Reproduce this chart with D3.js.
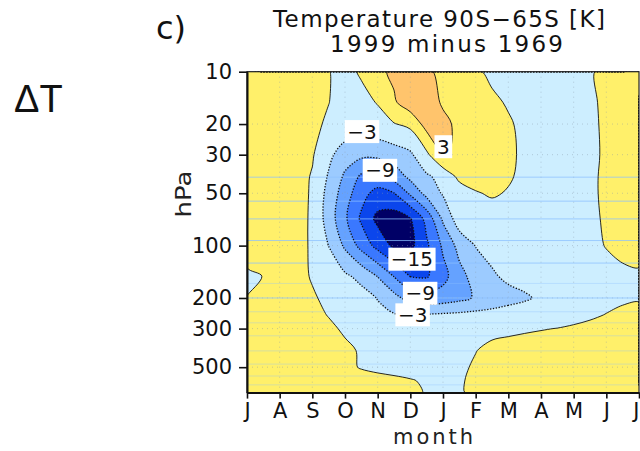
<!DOCTYPE html>
<html>
<head>
<meta charset="utf-8">
<script src="https://cdn.jsdelivr.net/npm/d3@7"></script>
<style>
  html, body { margin: 0; padding: 0; background: #fff; }
  svg { display: block; font-family: "DejaVu Sans", sans-serif; }
</style>
</head>
<body>
<svg id="chart" width="640" height="451"></svg>
<script>
// ---- Data: polar-cap (90S-65S) temperature change, 1999 minus 1969, in K ----
// Columns: half-month steps from July (0) to the following July (12)
const gridMonths = [0, 0.5, 1, 1.5, 2, 2.5, 3, 3.5, 4, 4.5, 5, 5.5, 6, 6.5, 7, 7.5, 8, 8.5, 9, 9.5, 10, 10.5, 11, 11.5, 12];
const monthTicks = [0, 1, 2, 3, 4, 5, 6, 7, 8, 9, 10, 11, 12];
const monthLabels = ["J", "A", "S", "O", "N", "D", "J", "F", "M", "A", "M", "J", "J"];

// Rows: pressure levels (hPa), top of the domain first
const pressureLevels = [10, 15, 20, 30, 40, 50, 70, 100, 150, 200, 250, 300, 400, 500, 600, 700];
const pressureTicks = [10, 20, 30, 50, 100, 200, 300, 500];

const hPa10  = [1.2, 1.3, 1.4, 1.3, 0.9, 0.07, -0.8, 0.28, 2.2, 3.6, 4.3, 3.5, 2.2, 1.4, 0.45, -0.7, -1.0, -1.1, -1.1, -0.9, -0.6, -0.3, 0.7, 1.0, 1.2];
const hPa15  = [1.3, 1.4, 1.5, 1.4, 0.9, 0.05, -1.0, -0.7, 0.13, 2.6, 4.8, 4.2, 2.7, 2.0, 1.3, 0.6, -0.3, -0.8, -1.0, -0.9, -0.6, -0.3, 0.35, 0.9, 1.3];
const hPa20  = [1.3, 1.5, 1.6, 1.4, 0.6, -0.4, -1.0, -1.2, -0.9, -0.15, 0.7, 4.2, 3.6, 2.45, 1.7, 1.0, 0.35, -0.7, -1.0, -1.0, -0.7, -0.35, 0.3, 0.9, 1.3];
const hPa30  = [1.3, 1.5, 1.5, 1.2, 0.26, -2.3, -4.5, -5.3, -5.2, -4.4, -3.5, -0.6, 3.2, 2.6, 1.6, 1.0, 0.4, -0.4, -0.9, -1.0, -0.8, -0.45, 0.3, 0.9, 1.3];
const hPa40  = [1.2, 1.4, 1.4, 1.0, -0.2, -3.3, -6.5, -9.5, -10.0, -7.8, -5.2, -3.4, -2.1, 0.75, 1.1, 1.0, 0.3, -0.6, -1.0, -1.1, -0.9, -0.4, 0.4, 0.9, 1.2];
const hPa50  = [1.2, 1.5, 1.5, 1.2, -0.35, -4.0, -7.5, -11.0, -13.0, -12.1, -8.5, -5.0, -2.7, -1.5, -0.2, 0.3, -0.2, -0.7, -1.1, -1.2, -0.9, -0.4, 0.4, 1.0, 1.2];
const hPa70  = [1.3, 1.6, 1.6, 1.2, -0.45, -4.3, -8.5, -12.5, -15.8, -16.5, -15.2, -11.0, -5.5, -1.35, -1.3, -1.3, -1.2, -1.3, -1.4, -1.3, -1.0, -0.5, 0.3, 0.9, 1.3];
const hPa100 = [1.3, 1.5, 1.5, 1.2, -0.45, -3.05, -6.5, -10.0, -13.0, -15.6, -15.8, -12.5, -8.5, -5.0, -2.9, -2.0, -1.6, -1.5, -1.5, -1.3, -1.0, -0.6, 0.1, 0.8, 1.5];
const hPa150 = [-0.5, 0.05, 0.6, 0.6, -0.15, -1.2, -2.5, -3.8, -6.1, -9.1, -12.1, -12.3, -10.0, -7.0, -4.8, -3.4, -2.4, -1.9, -1.6, -1.4, -1.2, -1.0, -0.8, -0.6, -0.6];
const hPa200 = [0.05, 0.6, 0.9, 0.8, 0.2, -0.4, -1.0, -1.9, -3.1, -5.0, -7.2, -8.0, -7.6, -6.8, -5.7, -4.8, -4.0, -3.4, -2.5, -1.8, -1.2, -0.8, -0.5, -0.3, -0.2];
const hPa250 = [0.8, 1.0, 1.1, 1.0, 0.6, -0.1, -0.9, -1.7, -2.4, -2.8, -2.9, -2.8, -2.6, -2.4, -2.2, -2.0, -1.7, -1.4, -1.1, -0.8, -0.5, -0.25, 0.05, 0.4, 0.6];
const hPa300 = [1.0, 1.2, 1.3, 1.2, 0.9, 0.4, -0.3, -1.0, -1.4, -1.6, -1.6, -1.5, -1.3, -1.0, -0.7, -0.45, -0.35, -0.2, -0.08, 0.03, 0.2, 0.4, 0.6, 0.8, 1.0];
const hPa400 = [1.2, 1.4, 1.5, 1.4, 1.2, 0.9, 0.4, -0.2, -0.7, -0.9, -1.0, -1.0, -0.8, -0.5, -0.05, 0.4, 0.6, 0.7, 0.8, 0.9, 1.0, 1.1, 1.2, 1.2, 1.2];
const hPa500 = [1.3, 1.5, 1.6, 1.5, 1.3, 1.0, 0.5, -0.15, -0.5, -0.7, -0.8, -0.8, -0.6, -0.3, 0.2, 0.6, 0.8, 0.9, 1.0, 1.1, 1.2, 1.2, 1.3, 1.3, 1.3];
const hPa600 = [1.3, 1.5, 1.6, 1.6, 1.5, 1.3, 1.1, 0.9, 0.7, 0.45, 0.15, -0.25, -0.45, -0.15, 0.3, 0.7, 0.9, 1.0, 1.1, 1.2, 1.2, 1.3, 1.3, 1.3, 1.3];
const hPa700 = [1.2, 1.4, 1.5, 1.5, 1.4, 1.3, 1.1, 0.9, 0.7, 0.5, 0.3, -0.1, -0.4, -0.15, 0.3, 0.6, 0.8, 0.9, 1.0, 1.1, 1.1, 1.2, 1.2, 1.2, 1.2];

// Contour interval 3 K
const contourLevels = [-15, -12, -9, -6, -3, 0, 3];

// Labelled contours: level, and where the label sits (month, hPa)
const labelLevel = [-3, -9, -15, -9, -3, 3];
const labelMonth = [3.52, 4.07, 5.05, 5.30, 5.07, 6.01];
const labelPressure = [22.1, 36.9, 119.7, 188, 250, 27.0];

// Vertical levels of the source data, visible as faint lines in the shading
const modelLevels = [40.4, 55.5, 70.2, 93.5, 126, 165, 200, 240, 278, 330, 403, 480, 562, 632];

// ---- Styles ----
const bandColors = ["#000066", "#0b46ec", "#3a78ff", "#65a2ff", "#9ccbff", "#cdeeff", "#fff06a", "#ffc46c"];

// ---- Layout ----
const svg = d3.select("#chart");
const plot = { left: 247, right: 639, top: 71.7, bottom: 392.6 };

const x = d3.scaleLinear().domain([0, 12]).range([plot.left, plot.right]);
const y = d3.scaleLog().domain([10, 700]).range([plot.top, plot.bottom]);

const rows = [hPa10, hPa15, hPa20, hPa30, hPa40, hPa50, hPa70, hPa100,
              hPa150, hPa200, hPa250, hPa300, hPa400, hPa500, hPa600, hPa700];
const nx = gridMonths.length, ny = pressureLevels.length;
const values = rows.flat();

// Grid coordinates (cell centres at i + 0.5) to month / pressure
function colToMonth(c) {
  const i = Math.max(0, Math.min(nx - 1, c - 0.5));
  const i0 = Math.floor(i), i1 = Math.min(i0 + 1, nx - 1), f = i - i0;
  return gridMonths[i0] * (1 - f) + gridMonths[i1] * f;
}
function rowToPressure(r) {
  const j = Math.max(0, Math.min(ny - 1, r - 0.5));
  const j0 = Math.floor(j), j1 = Math.min(j0 + 1, ny - 1), f = j - j0;
  return Math.exp(Math.log(pressureLevels[j0]) * (1 - f) + Math.log(pressureLevels[j1]) * f);
}

// Smooth closed rings through the contour vertices
const ringLine = d3.line().curve(d3.curveCatmullRomClosed.alpha(0.5));
function contourPath(mp) {
  let d = "";
  mp.coordinates.forEach(poly => poly.forEach(ring => {
    const pts = [];
    ring.forEach(([cx, cy]) => {
      const p = [x(colToMonth(cx)), y(rowToPressure(cy))];
      const q = pts[pts.length - 1];
      if (!q || Math.abs(q[0] - p[0]) > 0.05 || Math.abs(q[1] - p[1]) > 0.05) pts.push(p);
    });
    if (pts.length > 1) {
      const a = pts[0], b = pts[pts.length - 1];
      if (Math.abs(a[0] - b[0]) < 0.05 && Math.abs(a[1] - b[1]) < 0.05) pts.pop();
    }
    if (pts.length > 2) d += ringLine(pts);
  }));
  return d;
}

const bands = d3.contours().size([nx, ny]).thresholds(contourLevels)(values);

svg.append("defs").append("clipPath").attr("id", "plotClip")
  .append("rect")
  .attr("x", plot.left).attr("y", plot.top)
  .attr("width", plot.right - plot.left).attr("height", plot.bottom - plot.top);

const field = svg.append("g").attr("clip-path", "url(#plotClip)");

// Shaded bands: coldest colour underneath, each threshold's region on top
field.append("rect")
  .attr("x", plot.left).attr("y", plot.top)
  .attr("width", plot.right - plot.left).attr("height", plot.bottom - plot.top)
  .attr("fill", bandColors[0]);
field.selectAll("path.band").data(bands).join("path")
  .attr("class", "band")
  .attr("d", contourPath)
  .attr("fill", (d, i) => bandColors[i + 1]);

// Dotted grid at the axis ticks
field.selectAll("line.vgrid").data(monthTicks.slice(1, -1)).join("line")
  .attr("class", "vgrid")
  .attr("x1", d => x(d)).attr("x2", d => x(d))
  .attr("y1", plot.top).attr("y2", plot.bottom)
  .attr("stroke", "#8a9aa8").attr("stroke-opacity", 0.45)
  .attr("stroke-width", 1).attr("stroke-dasharray", "1,4");
field.selectAll("line.hgrid").data(pressureTicks.slice(1)).join("line")
  .attr("class", "hgrid")
  .attr("x1", plot.left).attr("x2", plot.right)
  .attr("y1", d => y(d)).attr("y2", d => y(d))
  .attr("stroke", "#8a9aa8").attr("stroke-opacity", 0.45)
  .attr("stroke-width", 1).attr("stroke-dasharray", "1,4");

// Faint data-level lines
field.selectAll("line.level").data(modelLevels).join("line")
  .attr("class", "level")
  .attr("x1", plot.left).attr("x2", plot.right)
  .attr("y1", d => y(d)).attr("y2", d => y(d))
  .attr("stroke", "#8cc0ff")
  .attr("stroke-opacity", d => (d <= 130 || d === 200) ? 0.75 : 0.35)
  .attr("stroke-width", 1);

// Contour lines: solid for zero and positive, dotted for negative
field.selectAll("path.iso").data(bands).join("path")
  .attr("class", "iso")
  .attr("d", contourPath)
  .attr("fill", "none")
  .attr("stroke", "#111")
  .attr("stroke-width", d => d.value < 0 ? 1.3 : 0.9)
  .attr("stroke-dasharray", d => d.value < 0 ? "1.3,1.6" : null);

// Contour labels on white boxes
const fmt = v => (v < 0 ? "\u2212" : "") + Math.abs(v);
const labels = svg.append("g");
labelLevel.forEach((lev, i) => {
  const g = labels.append("g");
  const t = g.append("text")
    .attr("x", x(labelMonth[i])).attr("y", y(labelPressure[i]))
    .attr("text-anchor", "middle").attr("dominant-baseline", "central")
    .attr("font-size", 20).attr("fill", "#111")
    .text(fmt(lev));
  const b = t.node().getBBox();
  g.insert("rect", "text")
    .attr("x", b.x - 2.5).attr("y", b.y + 0.5)
    .attr("width", b.width + 5).attr("height", b.height - 1)
    .attr("fill", "#fff");
});

// Frame
svg.append("rect")
  .attr("x", plot.left).attr("y", plot.top)
  .attr("width", plot.right - plot.left).attr("height", plot.bottom - plot.top)
  .attr("fill", "none").attr("stroke", "#222").attr("stroke-width", 1.2);

// Axes
const yAxis = svg.append("g")
  .attr("transform", `translate(${plot.left},0)`)
  .call(d3.axisLeft(y).tickValues(pressureTicks).tickFormat(d3.format("d"))
        .tickSize(8).tickSizeOuter(0).tickPadding(7));
const xAxis = svg.append("g")
  .attr("transform", `translate(0,${plot.bottom})`)
  .call(d3.axisBottom(x).tickValues(monthTicks).tickFormat(i => monthLabels[i])
        .tickSize(6).tickSizeOuter(0).tickPadding(4));
[yAxis, xAxis].forEach(a => {
  a.select(".domain").attr("stroke", "#111").attr("stroke-width", 2);
  a.selectAll(".tick line").attr("stroke", "#111").attr("stroke-width", 1.6);
  a.selectAll(".tick text").attr("font-family", "DejaVu Sans, sans-serif")
    .attr("font-size", 21).attr("fill", "#111");
});
// last month label sits flush with the right edge
xAxis.selectAll(".tick text").filter(d => d === 12).attr("text-anchor", "end").attr("x", 0);

// Axis titles
svg.append("text")
  .attr("transform", `translate(191,194) rotate(-90)`)
  .attr("text-anchor", "middle")
  .attr("font-size", 21).attr("fill", "#222")
  .attr("textLength", 47).attr("lengthAdjust", "spacingAndGlyphs")
  .text("hPa");
svg.append("text")
  .attr("x", 393).attr("y", 444)
  .attr("font-size", 21).attr("fill", "#222")
  .attr("textLength", 80).attr("lengthAdjust", "spacing")
  .text("month");

// Titles
svg.append("text")
  .attr("x", 273).attr("y", 27)
  .attr("font-size", 23).attr("fill", "#111")
  .attr("textLength", 332).attr("lengthAdjust", "spacing")
  .text("Temperature 90S\u221265S [K]");
svg.append("text")
  .attr("x", 330).attr("y", 52)
  .attr("font-size", 23).attr("fill", "#111")
  .attr("textLength", 233).attr("lengthAdjust", "spacing")
  .text("1999 minus 1969");
svg.append("text")
  .attr("x", 156).attr("y", 39)
  .attr("font-size", 32).attr("fill", "#111")
  .text("c)");
svg.append("text")
  .attr("x", 14).attr("y", 112)
  .attr("font-family", "Liberation Sans, Arial, sans-serif")
  .attr("font-size", 38).attr("fill", "#111")
  .text("\u0394T");
</script>
</body>
</html>
